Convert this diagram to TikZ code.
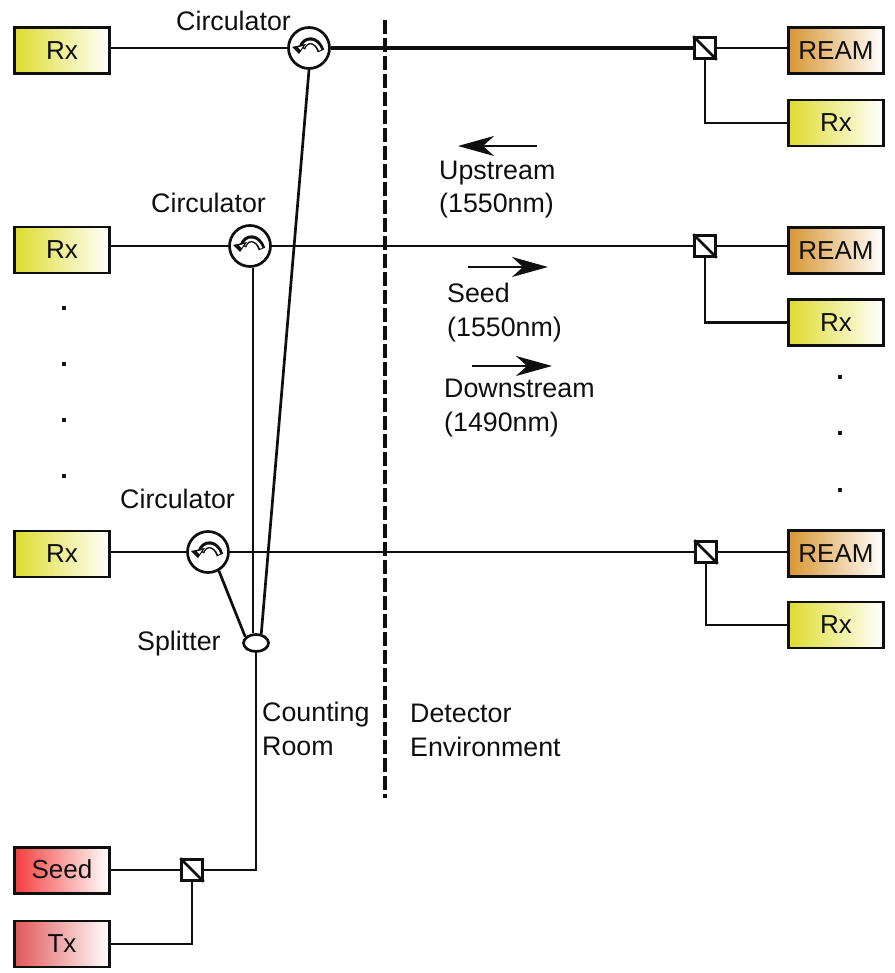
\documentclass[tikz,border=0pt]{standalone}
\usepackage{fontspec}
\setmainfont{Liberation Sans}
\usetikzlibrary{arrows.meta,calc,shapes.geometric}
\definecolor{rxc}{RGB}{222,220,45}
\definecolor{reamc}{RGB}{216,150,50}
\definecolor{seedc}{RGB}{243,62,62}
\definecolor{txc}{RGB}{222,88,88}
\definecolor{ink}{RGB}{15,15,15}
\tikzset{
 boxb/.style={draw=ink,line width=2.8pt,minimum width=95pt,minimum height=46pt,inner sep=0pt,font=\fontsize{26}{26}\selectfont,text=ink,left color=#1,right color=white},
 lab/.style={anchor=base west,inner sep=0pt,font=\fontsize{26.8}{27}\selectfont,text=ink},
 dotlab/.style={anchor=base,inner sep=0pt,font=\fontsize{27}{27}\selectfont\bfseries,text=ink},
 fiber/.style={draw=ink,line width=2.7pt},
 fiberb/.style={draw=ink,line width=4.2pt},
 circ/.style={circle,draw=ink,fill=white,line width=2.7pt,minimum size=41pt,inner sep=0pt},
 sq/.style={rectangle,draw=ink,fill=white,line width=2.6pt,minimum size=21pt,inner sep=0pt},
 split/.style={ellipse,draw=ink,fill=white,line width=2.7pt,minimum width=25pt,minimum height=17pt,inner sep=0pt},
 flow/.style={draw=ink,line width=2.2pt,-{Stealth[length=36pt,width=20pt,inset=11pt]}},
 wall/.style={draw=ink,line width=4.8pt,dash pattern=on 14pt off 4pt},
}
\newcommand{\circglyph}[1]{%
 \draw[ink,line width=7pt] ($(#1)+(-7,0)$) .. controls ($(#1)+(-4,-10)$) and ($(#1)+(8,-10)$) .. ($(#1)+(12,3)$);
 \draw[white,line width=2.4pt] ($(#1)+(-5.5,-1)$) .. controls ($(#1)+(-3,-8.5)$) and ($(#1)+(7,-8.5)$) .. ($(#1)+(11.2,2.2)$);
 \fill[ink] ($(#1)+(-17,-1)$) -- ($(#1)+(-3,-4)$) -- ($(#1)+(-10,6)$) -- cycle;
 \fill[white] ($(#1)+(-11,-0.5)$) -- ($(#1)+(-6,-2)$) -- ($(#1)+(-8.5,2)$) -- cycle;
}
\newcommand{\sqglyph}[1]{\draw[ink,line width=2.6pt] (#1.north west) -- (#1.south east);}
\begin{document}
\begin{tikzpicture}[x=1pt,y=-1pt]
\useasboundingbox (0,0) rectangle (894,973);
% boxes
\node[boxb=rxc] (rxa) at (62,50.5) {\raisebox{-2pt}{Rx}};
\node[boxb=rxc] (rxb) at (62,250) {\raisebox{-2pt}{Rx}};
\node[boxb=rxc] (rxc) at (62,554) {\raisebox{-1pt}{Rx}};
\node[boxb=reamc] (reama) at (836,50.5) {REAM};
\node[boxb=rxc] (rxd) at (836,123) {\raisebox{-2pt}{Rx}};
\node[boxb=reamc] (reamb) at (836,250.5) {REAM};
\node[boxb=rxc] (rxe) at (836,322.5) {\raisebox{-1pt}{Rx}};
\node[boxb=reamc] (reamc) at (836,553.5) {REAM};
\node[boxb=rxc] (rxf) at (836,625) {\raisebox{-1pt}{Rx}};
\node[boxb=seedc] (seed) at (62,870.5) {\raisebox{2pt}{Seed}};
\node[boxb=txc] (tx) at (62,944) {Tx};
% junction shapes
\node[circ] (ca) at (309,48) {};
\node[circ] (cb) at (250,246) {};
\node[circ] (cc) at (208,552) {};
\node[sq] (sa) at (705,48) {};
\node[sq] (sb) at (705,246) {};
\node[sq] (sc) at (706,552) {};
\node[sq] (sd) at (192,870) {};
\node[split] (spl) at (256,643) {};
% connectors
\draw[fiber] (rxa.east |- ca.west) -- (ca.west);
\draw[fiber] (rxb.east |- cb.west) -- (cb.west);
\draw[fiber] (rxc.east |- cc.west) -- (cc.west);
\draw[fiberb] (ca.east) -- (sa.west);
\draw[fiber] (cb.east) -- (sb.west);
\draw[fiber] (cc.east) -- (sc.west);
\draw[fiber] (sa.east) -- (reama.west |- sa.east);
\draw[fiber] (sb.east) -- (reamb.west |- sb.east);
\draw[fiber] (sc.east) -- (reamc.west |- sc.east);
\draw[fiber] (sa.south) |- (rxd.west);
\draw[fiber] (sb.south) |- (rxe.west);
\draw[fiber] (sc.south) |- (rxf.west);
\draw[fiber] (ca.south) -- (spl.60);
\draw[fiber] ($(cb.south)+(3,0)$) -- ($(spl.north)+(-3,0)$);
\draw[fiber] (cc.-60) -- (spl.150);
\draw[fiber] (spl.south) -- (spl.south |- sd.east) -- (sd.east);
\draw[fiber] (seed.east |- sd.west) -- (sd.west);
\draw[fiber] (tx.east) -| (sd.south);
\sqglyph{sa}\sqglyph{sb}\sqglyph{sc}\sqglyph{sd}
\circglyph{ca}\circglyph{cb}\circglyph{cc}
% boundary
\coordinate (wt) at (385,20);
\coordinate (wb) at (385,798);
\draw[wall] (wt) -- (wb);
% flow arrows
\coordinate (ua) at (537,146); \coordinate (ub) at (458,146);
\coordinate (va) at (468,267); \coordinate (vb) at (548,267);
\coordinate (wa) at (472,366); \coordinate (wc) at (552,366);
\draw[flow] (ua) -- (ub);
\draw[flow] (va) -- (vb);
\draw[flow] (wa) -- (wc);
% labels
\node[lab] (l1) at (176,31) {Circulator};
\node[lab] (l2) at (151,213) {Circulator};
\node[lab] (l3) at (120,508) {Circulator};
\node[lab] (l4) at (137,650) {Splitter};
\node[lab] (l5) at (439,180) {Upstream};
\node[lab] (l6) at (439,213) {(1550nm)};
\node[lab] (l7) at (447,302) {Seed};
\node[lab] (l8) at (447,336) {(1550nm)};
\node[lab] (l9) at (444,397) {Downstream};
\node[lab] (l10) at (444,431) {(1490nm)};
\node[lab] (l11) at (262,721) {Counting};
\node[lab] (l12) at (262,755) {Room};
\node[lab] (l13) at (410,722) {Detector};
\node[lab] (l14) at (410,756) {Environment};
\node[dotlab] (d1) at (64,310) {.};
\node[dotlab] (d2) at (64,366) {.};
\node[dotlab] (d3) at (64,422) {.};
\node[dotlab] (d4) at (64,478) {.};
\node[dotlab] (d5) at (840,379) {.};
\node[dotlab] (d6) at (840,435) {.};
\node[dotlab] (d7) at (840,492) {.};
\end{tikzpicture}
\end{document}
